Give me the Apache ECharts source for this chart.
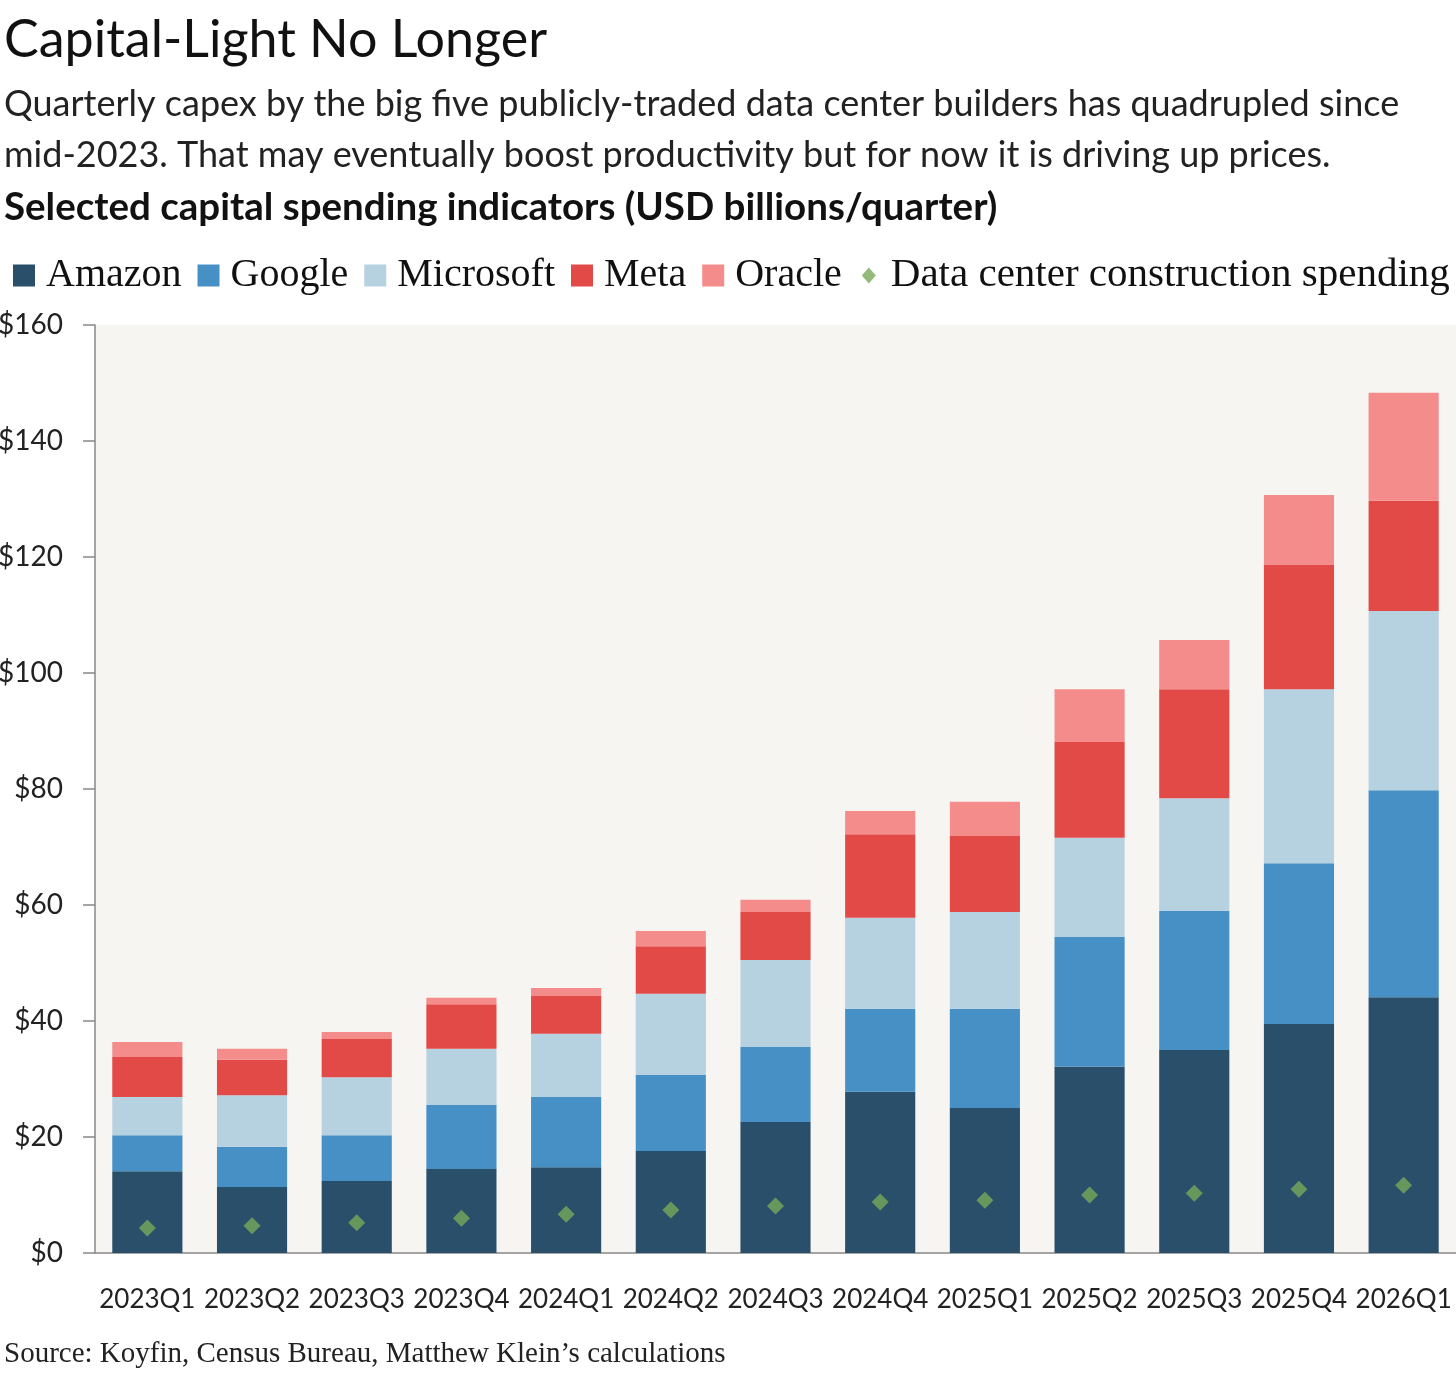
<html>
<head>
    <meta charset="utf-8">
    <title>Capital-Light No Longer</title>
    <script src="https://cdn.jsdelivr.net/npm/echarts@6/dist/echarts.min.js"></script>
    <style>
        body { margin: 0; background: #fff; }
    </style>
</head>
<body>
    <div id="main" style="width:1456px;height:1379px;"></div>
    <script type="text/javascript">
    // quarters on the x axis
    var quarters = ['2023Q1', '2023Q2', '2023Q3', '2023Q4', '2024Q1', '2024Q2', '2024Q3',
                    '2024Q4', '2025Q1', '2025Q2', '2025Q3', '2025Q4', '2026Q1'];

    // capex by company, USD bn per quarter
    var amazon    = [14.1, 11.4, 12.4, 14.5, 14.8, 17.6, 22.6, 27.8, 25.0, 32.1, 35.0, 39.5, 44.1];
    var google    = [6.2, 6.9, 7.9, 11.0, 12.1, 13.1, 12.9, 14.3, 17.1, 22.4, 24.0, 27.7, 35.7];
    var microsoft = [6.6, 8.9, 10.0, 9.7, 10.9, 14.0, 15.0, 15.7, 16.7, 17.1, 19.4, 30.0, 30.9];
    var meta      = [6.9, 6.1, 6.6, 7.7, 6.5, 8.2, 8.3, 14.4, 13.1, 16.5, 18.8, 21.4, 19.0];
    var oracle    = [2.6, 1.9, 1.2, 1.1, 1.4, 2.6, 2.1, 4.0, 5.9, 9.1, 8.5, 12.1, 18.6];
    // census data center construction spending
    var dataCenter = [4.3, 4.7, 5.2, 6.0, 6.7, 7.4, 8.1, 8.8, 9.1, 10.0, 10.3, 11.0, 11.7];

    var yTicks = [0, 20, 40, 60, 80, 100, 120, 140, 160];

    var sans = 'Lato, "Open Sans", sans-serif';
    var serif = '"Liberation Serif", "DejaVu Serif", serif';

    // small diamond for the legend (smaller than the squares)
    var diamondIcon = 'image://data:image/svg+xml;utf8,' + encodeURIComponent(
        '<svg xmlns="http://www.w3.org/2000/svg" width="22" height="22">' +
        '<path d="M11 3 L18 11 L11 19 L4 11 Z" fill="#78a95a"/></svg>');

    var myChart = echarts.init(document.getElementById('main'));

    function barSeries(name, data, color) {
        return {
            name: name,
            type: 'bar',
            stack: 'capex',
            data: data,
            barWidth: '67%',
            itemStyle: { color: color },
            emphasis: { disabled: true }
        };
    }

    var option = {
        animation: false,
        backgroundColor: '#ffffff',
        title: [{
            text: 'Capital-Light No Longer',
            left: 4, top: 14, padding: 0,
            textStyle: { fontFamily: sans, fontSize: 52, fontWeight: 'normal', color: '#111' }
        }, {
            text: 'Quarterly capex by the big five publicly-traded data center builders has quadrupled since\nmid-2023. That may eventually boost productivity but for now it is driving up prices.',
            left: 4, top: 79, padding: 0,
            textStyle: { fontFamily: sans, fontSize: 36, fontWeight: 'normal', color: '#222', lineHeight: 51 }
        }, {
            text: 'Selected capital spending indicators (USD billions/quarter)',
            left: 4, top: 188, padding: 0,
            textStyle: { fontFamily: sans, fontSize: 38.5, fontWeight: 'bold', color: '#111' }
        }, {
            text: 'Source: Koyfin, Census Bureau, Matthew Klein\u2019s calculations',
            left: 4, top: 1340, padding: 0,
            textStyle: { fontFamily: serif, fontSize: 29, fontWeight: 'normal', color: '#222' }
        }],
        legend: {
            left: 8, top: 250, right: 0,
            itemWidth: 22, itemHeight: 22, itemGap: 16,
            selectedMode: false,
            textStyle: { fontFamily: serif, fontSize: 40, color: '#111', padding: [0, 0, 0, 6] },
            data: [
                { name: 'Amazon', icon: 'rect' },
                { name: 'Google', icon: 'rect' },
                { name: 'Microsoft', icon: 'rect' },
                { name: 'Meta', icon: 'rect' },
                { name: 'Oracle', icon: 'rect' },
                { name: 'Data center construction spending', icon: diamondIcon,
                  textStyle: { fontSize: 41 } }
            ]
        },
        grid: {
            left: 95, right: 0, top: 325, bottom: 126,
            outerBoundsMode: 'none',
            containLabel: false,
            show: true, backgroundColor: '#f6f5f2', borderWidth: 0
        },
        xAxis: {
            type: 'category',
            data: quarters,
            axisLine: { show: true, lineStyle: { color: '#888', width: 1.5 } },
            axisTick: { show: false },
            axisLabel: { fontFamily: sans, fontSize: 26, color: '#222', margin: 34, interval: 0 },
            splitLine: { show: false }
        },
        yAxis: {
            type: 'value',
            min: yTicks[0], max: yTicks[yTicks.length - 1], interval: 20,
            axisLine: { show: true, lineStyle: { color: '#888', width: 1.5 } },
            axisTick: { show: true, length: 12, lineStyle: { color: '#888', width: 1.5 } },
            axisLabel: {
                fontFamily: sans, fontSize: 28, color: '#222', margin: 32,
                formatter: function (v) { return '$' + v; }
            },
            splitLine: { show: false }
        },
        series: [
            barSeries('Amazon', amazon, '#2a4f6b'),
            barSeries('Google', google, '#4690c6'),
            barSeries('Microsoft', microsoft, '#b6d1e0'),
            barSeries('Meta', meta, '#e24a47'),
            barSeries('Oracle', oracle, '#f48c8c'),
            {
                name: 'Data center construction spending',
                type: 'scatter',
                data: dataCenter,
                symbol: 'diamond',
                symbolSize: [17, 17],
                z: 5,
                itemStyle: { color: '#78a95a' },
                emphasis: { disabled: true }
            }
        ]
    };
    myChart.setOption(option);
    </script>
</body>
</html>
